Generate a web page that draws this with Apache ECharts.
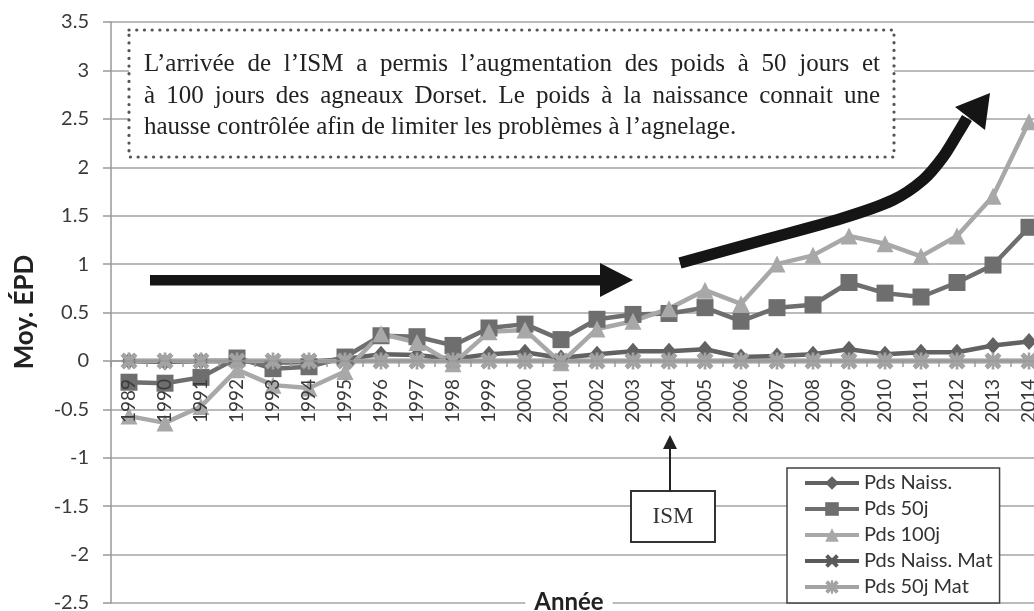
<!DOCTYPE html>
<html>
<head>
<meta charset="utf-8">
<script src="https://cdn.jsdelivr.net/npm/echarts@6/dist/echarts.min.js"></script>
<style>
  html, body { margin: 0; padding: 0; background: #fff; }
  #chart { width: 1034px; height: 611px; }
</style>
</head>
<body>
<div id="chart"></div>
<script>
// data
var years = ['1989', '1990', '1991', '1992', '1993', '1994', '1995', '1996', '1997', '1998', '1999', '2000', '2001',
  '2002', '2003', '2004', '2005', '2006', '2007', '2008', '2009', '2010', '2011', '2012', '2013', '2014']
var pdsNaiss = [0.0, -0.01, 0.0, 0.0, -0.02, -0.01, 0.02, 0.07, 0.06, 0.02, 0.07, 0.09, 0.03,
  0.07, 0.10, 0.10, 0.12, 0.04, 0.05, 0.07, 0.12, 0.07, 0.09, 0.09, 0.16, 0.20]
var pds50j = [-0.22, -0.23, -0.17, 0.03, -0.08, -0.06, 0.04, 0.26, 0.25, 0.16, 0.34, 0.38, 0.22,
  0.43, 0.48, 0.49, 0.55, 0.41, 0.55, 0.58, 0.81, 0.70, 0.66, 0.81, 0.99, 1.38]
var pds100j = [-0.57, -0.64, -0.47, -0.09, -0.25, -0.28, -0.11, 0.28, 0.19, -0.03, 0.30, 0.32, -0.02,
  0.33, 0.41, 0.54, 0.73, 0.59, 1.00, 1.09, 1.29, 1.21, 1.08, 1.29, 1.70, 2.47]
var pdsNaissMat = [0, 0, 0, 0, 0, 0, 0, 0, 0, 0, 0, 0, 0, 0, 0, 0, 0, 0, 0, 0, 0, 0, 0, 0, 0, 0]
var pds50jMat = [0, 0, 0, 0, 0, 0, 0, 0, 0, 0, 0, 0, 0, 0, 0, 0, 0, 0, 0, 0, 0, 0, 0, 0, 0, 0]
var yMin = -2.5
var yMax = 3.5
var yStep = 0.5

var noteLines = [
  'L’arrivée de l’ISM a permis l’augmentation des poids à 50 jours  et',
  'à 100 jours des agneaux Dorset. Le poids à la naissance connait une',
  'hausse contrôlée afin de limiter les problèmes à l’agnelage.'
]

var sans = 'Lato'
var serif = 'Liberation Serif'
var crossPath = 'path://M2,0L5,3L8,0L10,2L7,5L10,8L8,10L5,7L2,10L0,8L3,5L0,2Z'
var starPath = 'path://M2,0L5,3L8,0L10,2L7,5L10,8L8,10L5,7L2,10L0,8L3,5L0,2ZM4.2,0H5.8V10H4.2Z'

var gridTop = 22
var gridBottom = 8
var plotHeight = 611 - gridTop - gridBottom
// move the category axis up to the zero line
var xOffset = -plotHeight * (0 - yMin) / (yMax - yMin)

// justified text lines, word by word
function noteText() {
  var ctx = document.createElement('canvas').getContext('2d')
  var font = '25px "' + serif + '"'
  ctx.font = font
  var out = []
  var left = 144
  var width = 736
  var ys = [64, 96, 127.5]
  noteLines.forEach(function(line, i) {
    var style = { font: font, fill: '#222', align: 'left', verticalAlign: 'middle' }
    if (i === noteLines.length - 1) {
      out.push({ type: 'text', x: left, y: ys[i], z: 20, style: Object.assign({ text: line }, style) })
      return
    }
    var words = line.split(/\s+/)
    var total = 0
    words.forEach(function(w) { total += ctx.measureText(w).width })
    var gap = (width - total) / (words.length - 1)
    var cx = left
    words.forEach(function(w) {
      out.push({ type: 'text', x: cx, y: ys[i], z: 20, style: Object.assign({ text: w }, style) })
      cx += ctx.measureText(w).width + gap
    })
  })
  return out
}

function lineSeries(name, data, symbol, size, color) {
  return {
    name: name,
    type: 'line',
    data: data,
    symbol: symbol,
    symbolSize: size,
    lineStyle: { width: 4.5, color: color },
    itemStyle: { color: color },
    emphasis: { disabled: true }
  }
}

var arrowColor = '#151515'
var graphics = [
  // text box
  { type: 'rect', z: 15, shape: { x: 129, y: 30, width: 765, height: 127 },
    style: { fill: '#fff', stroke: '#555', lineWidth: 3.2, lineDash: [0.1, 7.6], lineCap: 'round' } },
  // straight arrow
  { type: 'rect', z: 15, shape: { x: 150, y: 275, width: 451, height: 10.5 }, style: { fill: arrowColor } },
  { type: 'polygon', z: 15, shape: { points: [[600, 263], [633, 280], [600, 297]] }, style: { fill: arrowColor } },
  // curved arrow
  { type: 'polyline', z: 15,
    shape: { points: [[680, 263], [760, 241], [843, 218], [893, 200], [923, 180], [943, 157], [958, 133], [967, 118]], smooth: 0.3 },
    style: { stroke: arrowColor, lineWidth: 11.5, fill: null } },
  { type: 'polygon', z: 15, shape: { points: [[955, 107], [990, 93], [985, 130]] }, style: { fill: arrowColor } },
  // ISM box
  { type: 'rect', z: 15, shape: { x: 631, y: 491, width: 84, height: 51 },
    style: { fill: '#fff', stroke: '#333', lineWidth: 2 } },
  { type: 'text', z: 16, x: 673, y: 517,
    style: { text: 'ISM', font: '23px "' + serif + '"', fill: '#333', align: 'center', verticalAlign: 'middle' } },
  { type: 'line', z: 15, shape: { x1: 670, y1: 491, x2: 670, y2: 447 }, style: { stroke: '#222', lineWidth: 2 } },
  { type: 'polygon', z: 15, shape: { points: [[670, 435], [663, 449], [677, 449]] }, style: { fill: '#222' } },
  // axis titles
  { type: 'text', z: 16, x: 25, y: 312, rotation: Math.PI / 2,
    style: { text: 'Moy. ÉPD', font: 'bold 26px ' + sans, fill: '#222', align: 'center', verticalAlign: 'middle' } },
  { type: 'text', z: 16, x: 569, y: 602,
    style: { text: 'Année', font: 'bold 24px ' + sans, fill: '#222', align: 'center', verticalAlign: 'middle',
      backgroundColor: '#fff', padding: [0, 9] } }
].concat(noteText())

var chart = echarts.init(document.getElementById('chart'))
chart.setOption({
  animation: false,
  backgroundColor: '#fff',
  grid: {
    left: 111,
    right: -13,
    top: gridTop,
    bottom: gridBottom,
    containLabel: false,
    outerBoundsMode: 'none'
  },
  legend: {
    orient: 'vertical',
    left: 787,
    top: 468,
    align: 'left',
    padding: [5, 7, 6, 16],
    itemGap: 6,
    itemWidth: 54,
    itemHeight: 17,
    backgroundColor: '#fff',
    borderColor: '#404040',
    borderWidth: 1.5,
    lineStyle: { width: 4 },
    textStyle: { fontFamily: sans, fontSize: 20, color: '#333', lineHeight: 20 },
    z: 10
  },
  xAxis: {
    type: 'category',
    data: years,
    offset: xOffset,
    z: 4,
    axisLine: { onZero: false, lineStyle: { color: '#999', width: 1.5 } },
    axisTick: { show: true, length: 6, lineStyle: { color: '#999', width: 1.5 } },
    axisLabel: { rotate: 90, interval: 0, margin: 18, fontFamily: sans, fontSize: 19, color: '#3a3a3a' },
    splitLine: { show: false }
  },
  yAxis: {
    type: 'value',
    min: yMin,
    max: yMax,
    interval: yStep,
    axisLine: { show: true, lineStyle: { color: '#999', width: 1.5 } },
    axisTick: { show: true, length: 8, lineStyle: { color: '#999', width: 1.5 } },
    axisLabel: { margin: 22, fontFamily: sans, fontSize: 20, color: '#3a3a3a' },
    splitLine: { lineStyle: { color: '#a3a3a3', width: 1.5 } }
  },
  graphic: graphics,
  series: [
    lineSeries('Pds Naiss.', pdsNaiss, 'diamond', [15, 17], '#626262'),
    lineSeries('Pds 50j', pds50j, 'rect', 17, '#6e6e6e'),
    lineSeries('Pds 100j', pds100j, 'triangle', 17, '#a8a8a8'),
    lineSeries('Pds Naiss. Mat', pdsNaissMat, crossPath, 15, '#5a5a5a'),
    lineSeries('Pds 50j Mat', pds50jMat, starPath, 17, '#a3a3a3')
  ]
})
window.addEventListener('resize', function() {
  chart.resize()
})
</script>
</body>
</html>
